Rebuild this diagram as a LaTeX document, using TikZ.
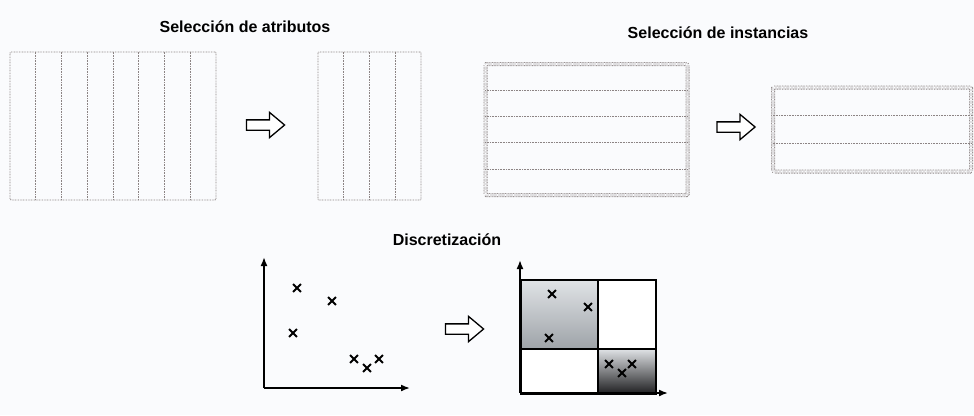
\documentclass[tikz,border=0pt]{standalone}
\usepackage{fontspec}
\setmainfont{Liberation Sans}
\usepackage{tikz}
\usetikzlibrary{arrows.meta,positioning,shapes.arrows,shapes.misc,calc}
\definecolor{fondo}{RGB}{250,251,253}
\definecolor{punteado}{RGB}{140,132,132}
\definecolor{grisclaro}{RGB}{224,227,230}
\definecolor{grismedio}{RGB}{158,163,168}
\definecolor{grisoscuro}{RGB}{30,30,32}

\begin{document}
\begin{tikzpicture}[
  x=1pt, y=-1pt,
  titulo/.style={font=\fontsize{16}{18}\selectfont\bfseries, anchor=base, inner sep=0},
  tabla/.style={draw=punteado, dash pattern=on 0.8pt off 0.8pt, line width=0.8pt, inner sep=0, rounded corners=1pt},
  tabladoble/.style={tabla, double=fondo, double distance=2.4pt},
  linea/.style={draw=punteado, dash pattern=on 0.8pt off 0.8pt, line width=0.8pt},
  flecha/.style={single arrow, draw=black, line width=1.3pt, fill=white, minimum height=38pt, minimum width=24pt, single arrow head extend=7.5pt, single arrow tip angle=80, inner xsep=0, inner ysep=4.5pt},
  eje/.style={-{Latex[length=9pt,width=7pt]}, line width=1.7pt},
  cruz/.style={cross out, draw, line width=1.8pt, minimum size=6pt, inner sep=0},
  celda/.style={draw, line width=1.7pt, anchor=north west, inner sep=0}
]
\fill[fondo] (0,0) rectangle (974,415);
\useasboundingbox (0,0) rectangle (974,415);

\node[titulo] (tatr) at (245,32) {Selección de atributos};
\node[titulo] (tins) at (718,38) {Selección de instancias};
\node[titulo] (tdis) at (447,245) {Discretización};

\node[tabla, minimum width=206pt, minimum height=148pt] (atr1) at (113,126) {};
\foreach \i in {1,...,7}
  \draw[linea] ($(atr1.north west)!\i/8!(atr1.north east)$) -- ($(atr1.south west)!\i/8!(atr1.south east)$);
\node[tabla, minimum width=103pt, minimum height=148pt] (atr2) at (369.5,126) {};
\foreach \i in {1,...,3}
  \draw[linea] ($(atr2.north west)!\i/4!(atr2.north east)$) -- ($(atr2.south west)!\i/4!(atr2.south east)$);
\node[flecha] (f1) at (262.5,125) {};

\node[tabladoble, minimum width=202pt, minimum height=131pt] (ins1) at (586.5,129.5) {};
\foreach \i in {1,...,4}
  \draw[linea] ($(ins1.north west)!\i/5!(ins1.south west)$) -- ($(ins1.north east)!\i/5!(ins1.south east)$);
\node[tabladoble, minimum width=198pt, minimum height=84pt] (ins2) at (872,129.5) {};
\foreach \i in {1,2}
  \draw[linea] ($(ins2.north west)!\i/3!(ins2.south west)$) -- ($(ins2.north east)!\i/3!(ins2.south east)$);
\node[flecha] (f2) at (733,127) {};

\coordinate (o1) at (264,388);
\draw[eje] (o1) -- (264,257);
\draw[eje] (o1) -- (410,388);
\foreach \p [count=\k] in {(297,288),(332,301),(293,333),(354,359),(367,368),(379,359)}
  \node[cruz] (a\k) at \p {};
\node[flecha] (f3) at (461.5,329) {};

\node[celda, top color=grisclaro, bottom color=grismedio, minimum width=77pt, minimum height=69pt] (c1) at (520,279) {};
\node[celda, fill=white, minimum width=58pt, minimum height=69pt] (c2) at (597,279) {};
\node[celda, fill=white, minimum width=77pt, minimum height=45pt] (c3) at (520,348) {};
\node[celda, top color=grisclaro, bottom color=grisoscuro, minimum width=58pt, minimum height=45pt] (c4) at (597,348) {};
\coordinate (o2) at (520,393);
\draw[eje] (o2) -- (520,260);
\draw[eje] (o2) -- (668,393);
\foreach \p [count=\k] in {(552,294),(588,307),(549,338),(609,364),(622,373),(632,364)}
  \node[cruz] (b\k) at \p {};
\end{tikzpicture}
\end{document}
